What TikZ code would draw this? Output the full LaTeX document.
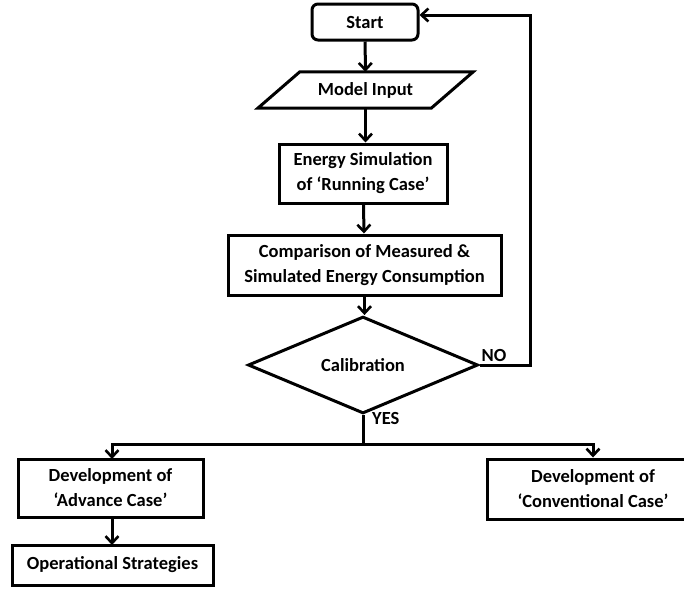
\documentclass[tikz,border=0pt]{standalone}
\usepackage{fontspec}
\setmainfont{Carlito}
\usetikzlibrary{arrows.meta,shapes.geometric}
\begin{document}
\begin{tikzpicture}[x=1pt,y=-1pt,
  every node/.style={font=\fontsize{18.5}{25}\selectfont\bfseries, align=center, inner sep=0pt},
  box/.style={draw, line width=3pt, minimum width=#1, text centered},
  arr/.style={line width=3pt, -{Straight Barb[length=7pt,width=13pt,line width=2.6pt]}},
  ln/.style={line width=3pt}]
\useasboundingbox (0,0) rectangle (684,598);
\clip (0,0) rectangle (684,598);
\node[box=106pt, minimum height=36pt, rounded corners=6pt] (start) at (365,22) {Start};
\node[minimum width=173pt, minimum height=36pt] (input) at (365.5,90) {Model Input};
\draw[ln, line join=miter] ([xshift=21pt]input.north west) -- ([xshift=21pt]input.north east)
  -- ([xshift=-21pt]input.south east) -- ([xshift=-21pt]input.south west) -- cycle;
\node[box=168pt, minimum height=59pt] (sim) at (363,173.5) {Energy Simulation\\of ‘Running Case’};
\node[box=273pt, minimum height=60pt] (comp) at (364.5,265) {Comparison of Measured \&\\Simulated Energy Consumption};
\node[draw, line width=3pt, shape=diamond, minimum width=230pt, minimum height=70pt] (calib) at (363,365) {Calibration};
\node[box=185pt, minimum height=58pt] (adv) at (110.5,488) {Development of\\‘Advance Case’};
\node[box=201pt, minimum height=40pt] (ops) at (112.5,565) {Operational Strategies};
\node[box=212pt, minimum height=60pt] (conv) at (593,489) {Development of\\‘Conventional Case’};
\draw[arr] (start) -- (input);
\draw[arr] (input.south) -- (input.south |- sim.north);
\draw[arr] (sim) -- (comp);
\draw[arr] (comp.south) -- (comp.south |- calib.north);
\draw[arr] (calib.east) -- ++(51,0) coordinate (nocorner) |- ([yshift=7pt]start.east);
\node[anchor=south] (nolab) at (494,362) {NO};
\draw[ln] (calib.south) -- ++(0,30) coordinate (split);
\draw[arr] (split) -| (112,459) coordinate (advtop);
\draw[arr] (split) -| (conv.north);
\node[anchor=west] (yeslab) at (372,418) {YES};
\draw[arr] (112,517) -- (112,545);
\end{tikzpicture}
\end{document}
